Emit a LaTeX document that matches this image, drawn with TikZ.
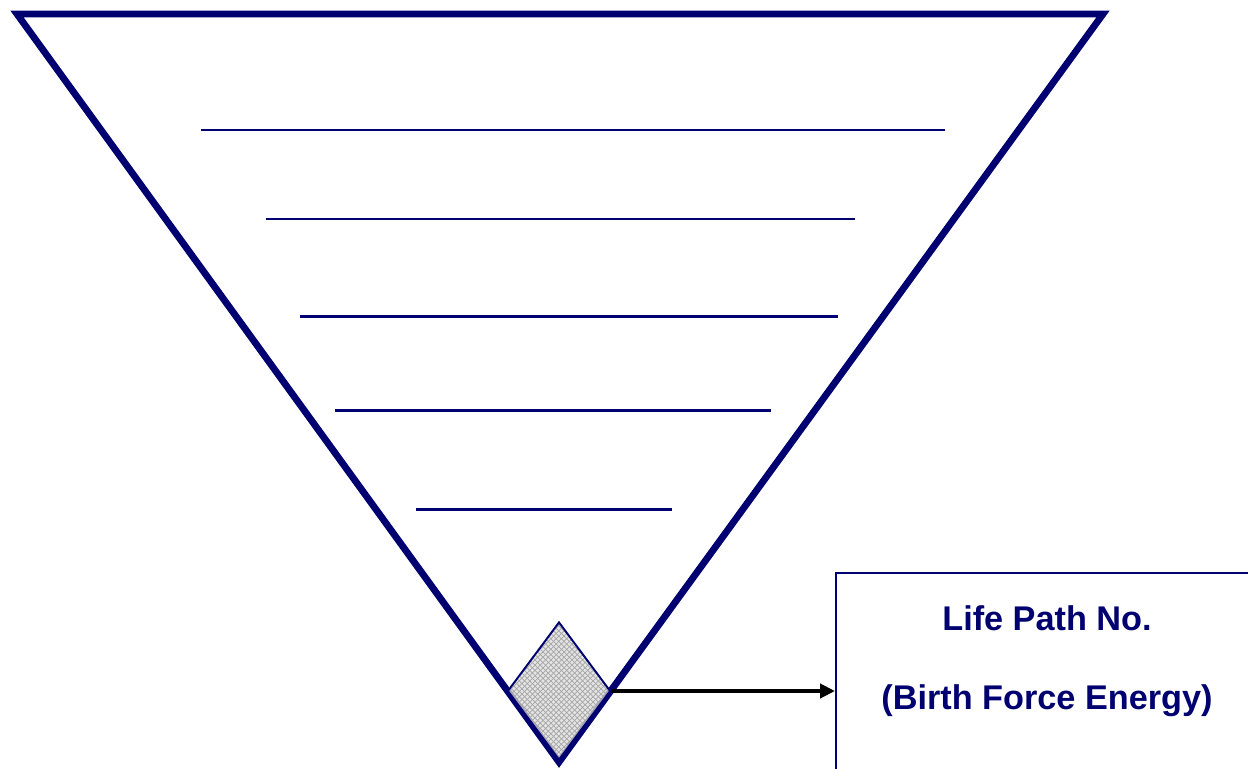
\documentclass[tikz,border=0pt]{standalone}
\usepackage{fontspec}
\setmainfont{Liberation Sans}
\usetikzlibrary{arrows.meta,shapes.geometric,patterns}
\definecolor{deepnavy}{RGB}{0,0,112}

\begin{document}
\begin{tikzpicture}[x=0.02cm,y=-0.02cm,line cap=butt,line join=miter,
  rung/.style={deepnavy,line width=1.7pt},
  lifebox/.style={draw=deepnavy,line width=1.1pt,anchor=north west,minimum width=440*0.02cm,minimum height=230*0.02cm,inner sep=0pt},
  boxtext/.style={text=deepnavy,font=\fontsize{19.5}{23}\selectfont\bfseries,inner sep=0pt}]
\useasboundingbox (0,0) rectangle (1248,768);
\clip (0,0) rectangle (1248,768);
% funnel
\coordinate (tl) at (17,14);
\coordinate (tr) at (1103,14);
\coordinate (tip) at (559,762);
\draw[deepnavy,line width=3.9pt] (tl) -- (tr) -- (tip) -- cycle;
% blank lines
\draw[rung] (201,130) -- (945,130);
\draw[rung] (266,219) -- (855,219);
\draw[rung] (300,316) -- (838,316);
\draw[rung] (335,410) -- (771,410);
\draw[rung] (416,509) -- (672,509);
% seed at the tip
\node[diamond,draw=deepnavy,line width=1.1pt,preaction={fill=black!14,fill opacity=0.75},pattern=crosshatch,pattern color=black!35,inner sep=0pt,minimum width=103*0.02cm,minimum height=138*0.02cm] (gem) at (559,691) {};
% box on the right
\node[lifebox] (life) at (835,572) {};
\node[boxtext] (lifepath) at (1047,618) {Life Path No.};
\node[boxtext] (birthforce) at (1047,701) {(Birth Force Energy)};
\draw[-{Triangle[length=8.5pt,width=8pt]},black,line width=2.2pt] (gem.east) -- (life.west |- gem.east);
\end{tikzpicture}
\end{document}
